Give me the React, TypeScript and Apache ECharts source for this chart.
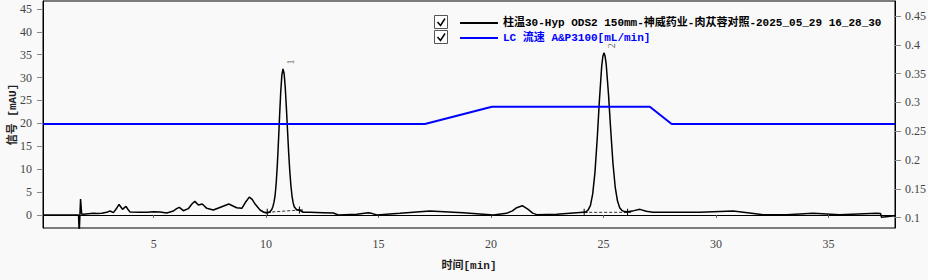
import React, { useEffect, useRef } from 'react';
import * as echarts from 'echarts';

const seriesNames = [
  '柱温30-Hyp ODS2 150mm-神威药业-肉苁蓉对照-2025_05_29 16_28_30',
  'LC 流速 A&P3100[mL/min]',
];
const xTicks = [5, 10, 15, 20, 25, 30, 35];
const leftTicks = [0, 5, 10, 15, 20, 25, 30, 35, 40, 45];
const rightTicks = [0.1, 0.15, 0.2, 0.25, 0.3, 0.35, 0.4, 0.45];

// detector signal [time(min), mAU]
const signal: [number, number][] = [
  [0.08, 0], [1.66, 0], [1.69, -4], [1.75, 3.5], [1.8, 0.2], [1.88, 0.14], [2.1, 0.25], [2.32, 0.36],
  [2.5, 0.3], [2.69, 0.36], [2.91, 0.58], [3.06, 0.87], [3.21, 0.51], [3.33, 1.3], [3.46, 2.3],
  [3.55, 1.7], [3.62, 1.23], [3.7, 1.6], [3.77, 1.88], [3.86, 1.2], [3.95, 0.65], [4.4, 0.58],
  [4.7, 0.6], [4.99, 0.72], [5.28, 0.65], [5.58, 0.43], [5.88, 0.87], [6.02, 1.4], [6.14, 1.67],
  [6.32, 0.94], [6.54, 1.38], [6.7, 2.4], [6.83, 2.97], [6.99, 2.17], [7.16, 2.39], [7.36, 1.45],
  [7.65, 1.09], [8.03, 1.81], [8.34, 2.39], [8.69, 1.59], [8.92, 1.45], [9.1, 2.9], [9.25, 3.91],
  [9.38, 3.4], [9.51, 2.39], [9.73, 1.09], [9.9, 0.6], [10.03, 0.45], [10.15, 0.6], [10.25, 1.2],
  [10.3, 1.8], [10.35, 2.8], [10.4, 4.3], [10.45, 7.1], [10.5, 11.1], [10.55, 16.2], [10.6, 21.8],
  [10.65, 26.9], [10.7, 30.6], [10.75, 31.9], [10.8, 30.9], [10.85, 27.9], [10.9, 23.5],
  [10.95, 18.6], [11.0, 13.8], [11.05, 9.7], [11.1, 6.5], [11.15, 4.2], [11.2, 2.7], [11.25, 1.8],
  [11.35, 1.2], [11.48, 1.09], [11.65, 0.6], [11.95, 0.58], [12.54, 0.51], [12.99, 0.43],
  [13.21, 0.0], [14.03, 0.14], [14.54, 0.51], [14.69, 0.36], [14.92, 0.0], [15.95, 0.36],
  [17.28, 0.87], [18.76, 0.51], [20.1, 0.0], [20.69, 0.36], [20.95, 0.9], [21.14, 1.59],
  [21.39, 2.03], [21.65, 1.23], [21.85, 0.4], [22.03, 0.07], [22.92, 0.14], [24.1, 0.58],
  [24.22, 0.7], [24.32, 1.1], [24.42, 2.1], [24.52, 4.6], [24.62, 9.3], [24.72, 16.6],
  [24.82, 25.2], [24.92, 32.5], [24.97, 34.6], [25.02, 35.4], [25.07, 34.7], [25.12, 32.9],
  [25.22, 26.5], [25.32, 18.6], [25.42, 11.3], [25.52, 6.1], [25.62, 3.1], [25.72, 1.6],
  [25.82, 1.0], [25.92, 0.75], [26.07, 0.7], [26.35, 0.95], [26.62, 1.23], [26.9, 0.8],
  [27.2, 0.58], [29.28, 0.58], [30.76, 0.87], [31.5, 0.43], [32.1, 0.07], [33.14, 0.07],
  [34.32, 0.36], [35.5, 0.07], [37.14, 0.36], [37.32, 0.3], [37.36, -0.51], [37.96, -0.14],
];

// flow rate [time(min), mL/min]
const flow: [number, number][] = [
  [0.08, 0.2626], [17.06, 0.2626], [20.04, 0.2926], [27.06, 0.2926], [28.03, 0.2626], [37.96, 0.2626],
];

const baseline1: [number, number][] = [[10.05, 0.58], [11.48, 1.09]];
const baseline2: [number, number][] = [[24.14, 0.58], [26.07, 0.58]];
const peakLabels: [number, number, string][] = [[10.75, 31.9, '1'], [25.02, 35.4, '2']];

const mono = "'Liberation Mono', 'Noto Sans CJK SC', monospace";
const serif = "'Liberation Serif', serif";
const plus = 'path://M3,0H4V3H7V4H4V7H3V4H0V3H3Z';

export default function App() {
  const ref = useRef<HTMLDivElement>(null);
  useEffect(() => {
    const chart = echarts.init(ref.current!, null, { renderer: 'svg' });
    const tickLabel = { color: '#444', fontFamily: serif, fontSize: 12 };
    chart.setOption({
      animation: false,
      backgroundColor: '#f9f9f9',
      grid: {
        left: 43, right: 33, top: 1, bottom: 52, show: true, borderColor: '#000', borderWidth: 1,
        containLabel: false, outerBoundsMode: 'none',
      },
      legend: {
        orient: 'vertical', left: 455, top: 10.5, itemWidth: 38, itemHeight: 2, icon: 'rect',
        itemGap: 0, selectedMode: false, z: 3,
        textStyle: { fontFamily: mono, fontWeight: 'bold', fontSize: 11, lineHeight: 15 },
        data: [
          { name: seriesNames[0], textStyle: { color: '#000' } },
          { name: seriesNames[1], textStyle: { color: '#0000ff' } },
        ],
      },
      graphic: [
        { type: 'rect', shape: { x: 434.5, y: 15.5, width: 13, height: 13 }, style: { fill: '#fff', stroke: '#555', lineWidth: 1 } },
        { type: 'polyline', shape: { points: [[437.5, 22], [440.5, 25.5], [445, 18.5]] }, style: { stroke: '#000', lineWidth: 1.5, fill: null } },
        { type: 'rect', shape: { x: 434.5, y: 30.5, width: 13, height: 13 }, style: { fill: '#fff', stroke: '#555', lineWidth: 1 } },
        { type: 'polyline', shape: { points: [[437.5, 37], [440.5, 40.5], [445, 33.5]] }, style: { stroke: '#000', lineWidth: 1.5, fill: null } },
      ],
      xAxis: {
        type: 'value', min: 0.08, max: 37.96,
        name: '时间[min]', nameLocation: 'middle', nameGap: 32,
        nameTextStyle: { fontFamily: mono, fontWeight: 'bold', fontSize: 11, color: '#222' },
        axisLine: { show: true, lineStyle: { color: '#000' } },
        axisTick: { show: true, length: 3, lineStyle: { color: '#666' }, customValues: xTicks },
        axisLabel: { ...tickLabel, margin: 10, customValues: xTicks },
        splitLine: { show: false },
      },
      yAxis: [
        {
          type: 'value', min: -2.84, max: 46.72, position: 'left',
          name: '信号 [mAU]', nameLocation: 'middle', nameGap: 25, nameMoveOverlap: false,
          nameTextStyle: { fontFamily: mono, fontWeight: 'bold', fontSize: 11, color: '#222' },
          axisLine: { show: true, lineStyle: { color: '#000' } },
          axisTick: { show: true, length: 6, lineStyle: { color: '#888' }, customValues: leftTicks },
          axisLabel: { ...tickLabel, margin: 11, customValues: leftTicks },
          splitLine: { show: false },
        },
        {
          type: 'value', min: 0.0821, max: 0.4762, position: 'right',
          axisLine: { show: true, lineStyle: { color: '#000' } },
          axisTick: { show: true, length: 6, lineStyle: { color: '#888' }, customValues: rightTicks },
          axisLabel: { ...tickLabel, margin: 10, customValues: rightTicks },
          splitLine: { show: false },
        },
      ],
      series: [
        {
          name: seriesNames[0], type: 'line', data: signal, yAxisIndex: 0, symbol: 'none', showSymbol: false,
          lineStyle: { color: '#000', width: 1.5 }, itemStyle: { color: '#000' }, z: 2,
        },
        {
          name: 'baseline1', type: 'line', data: baseline1, yAxisIndex: 0, symbol: plus, symbolSize: 7,
          showSymbol: true, lineStyle: { color: '#333', width: 1, type: [3, 2] }, itemStyle: { color: '#000' }, z: 3,
        },
        {
          name: 'baseline2', type: 'line', data: baseline2, yAxisIndex: 0, symbol: plus, symbolSize: 7,
          showSymbol: true, lineStyle: { color: '#333', width: 1, type: [3, 2] }, itemStyle: { color: '#000' }, z: 3,
        },
        {
          name: 'peaks', type: 'scatter', data: peakLabels, yAxisIndex: 0, symbolSize: 1,
          itemStyle: { color: 'rgba(0,0,0,0)' },
          labelLayout: { hideOverlap: false },
          label: {
            show: true, position: [8.5, -6.5], align: 'center', verticalAlign: 'middle',
            formatter: (p: any) => p.value[2], rotate: 90,
            fontSize: 10, color: '#333', fontFamily: serif,
          },
          z: 5,
        },
        {
          name: seriesNames[1], type: 'line', data: flow, yAxisIndex: 1, symbol: 'none', showSymbol: false,
          lineStyle: { color: '#0000ff', width: 2 }, itemStyle: { color: '#0000ff' }, z: 4,
        },
      ],
    });
    return () => chart.dispose();
  }, []);
  return (
    <div
      ref={ref}
      style={{ position: 'fixed', left: 0, top: 0, width: 928, height: 280, background: '#f9f9f9' }}
    />
  );
}
